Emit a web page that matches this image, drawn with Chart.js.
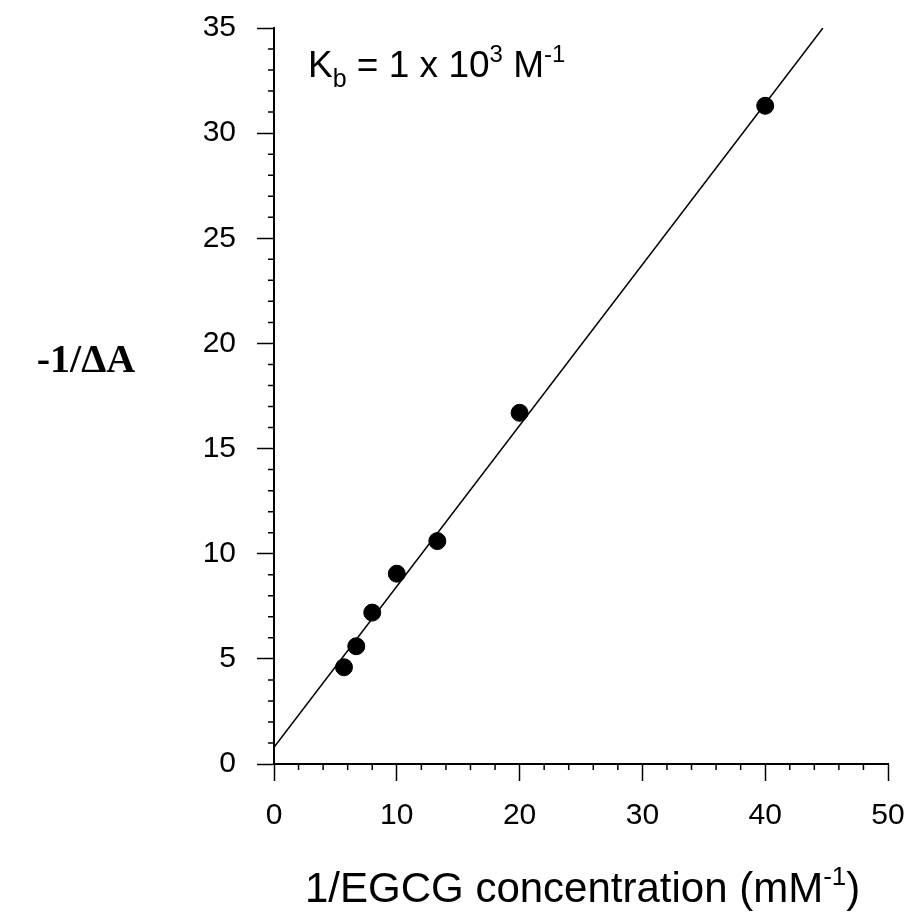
<!DOCTYPE html>
<html>
<head>
<meta charset="utf-8">
<script src="https://cdn.jsdelivr.net/npm/chart.js@4"></script>
<style>
  html, body { margin: 0; padding: 0; background: #fff; }
  #wrap { width: 910px; height: 917px; }
</style>
</head>
<body>
<div id="wrap"><canvas id="chart"></canvas></div>
<script>
const invConc = [5.7, 6.7, 8.0, 10.0, 13.3, 20.0, 40.0];
const invDeltaA = [4.6, 5.6, 7.2, 9.05, 10.6, 16.7, 31.3];

// fitted line, ends where it leaves the frame
const fitX = [0, 44.7];
const fitY = [0.8, 35];

const xMin = 0, xMax = 50, xStep = 10, xMinor = 2;
const yMin = 0, yMax = 35, yStep = 5, yMinor = 1;

const sans = '"Liberation Sans", Arial, sans-serif';
const serif = '"Liberation Serif", "Times New Roman", serif';

// minor ticks + the texts that carry sub/superscripts
const decorations = {
    id: 'decorations',
    afterDraw(chart) {
        const { ctx, scales: { x, y }, chartArea } = chart;
        ctx.save();
        ctx.strokeStyle = '#000';
        ctx.lineWidth = 1.5;
        ctx.beginPath();
        for (let v = xMin; v <= xMax; v += xMinor) {
            if (v % xStep === 0) continue;
            const px = x.getPixelForValue(v);
            ctx.moveTo(px, chartArea.bottom);
            ctx.lineTo(px, chartArea.bottom + 6);
        }
        for (let v = yMin; v <= yMax; v += yMinor) {
            if (v % yStep === 0) continue;
            const py = y.getPixelForValue(v);
            ctx.moveTo(chartArea.left, py);
            ctx.lineTo(chartArea.left - 6, py);
        }
        ctx.stroke();

        ctx.fillStyle = '#000';
        ctx.textBaseline = 'alphabetic';
        ctx.textAlign = 'left';

        // K_b = 1 x 10^3 M^-1
        let cx = 308;
        const base = 77;
        const put = (txt, size, dy) => {
            ctx.font = `${size}px ${sans}`;
            ctx.fillText(txt, cx, base + dy);
            cx += ctx.measureText(txt).width;
        };
        put('K', 37, 0);
        put('b', 25, 10);
        put(' = 1 x 10', 37, 0);
        put('3', 24, -15);
        put(' M', 37, 0);
        put('-1', 24, -15);

        // x title
        cx = 305;
        const tb = 902;
        const putT = (txt, size, dy) => {
            ctx.font = `${size}px ${sans}`;
            ctx.fillText(txt, cx, tb + dy);
            cx += ctx.measureText(txt).width;
        };
        putT('1/EGCG concentration (mM', 42, 0);
        putT('-1', 26, -17);
        putT(')', 42, 0);

        // y title
        ctx.font = `bold 40px ${serif}`;
        ctx.textAlign = 'center';
        ctx.textBaseline = 'middle';
        ctx.fillText('-1/\u0394A', 86, 362);
        ctx.restore();
    }
};

new Chart(document.getElementById('chart'), {
    type: 'scatter',
    data: {
        datasets: [
            {
                data: fitX.map((v, i) => ({ x: v, y: fitY[i] })),
                showLine: true,
                borderColor: '#000',
                borderWidth: 1.5,
                pointRadius: 0,
                fill: false
            },
            {
                data: invConc.map((v, i) => ({ x: v, y: invDeltaA[i] })),
                backgroundColor: '#000',
                borderColor: '#000',
                pointRadius: 8.5,
                pointHoverRadius: 8.5
            }
        ]
    },
    options: {
        responsive: true,
        maintainAspectRatio: false,
        animation: false,
        layout: { padding: { top: 28, right: 22, left: 0, bottom: 0 } },
        plugins: {
            legend: { display: false },
            tooltip: { enabled: false }
        },
        scales: {
            x: {
                type: 'linear',
                min: xMin,
                max: xMax,
                afterFit: (s) => {
                    s.height = 917 - 764;
                    s.paddingLeft = 0;
                    s.paddingRight = 0;
                },
                border: { display: true, color: '#000', width: 2 },
                grid: { drawOnChartArea: false, tickLength: 17, tickColor: '#000', tickWidth: 1.5 },
                ticks: {
                    stepSize: xStep,
                    color: '#000',
                    padding: 17,
                    maxRotation: 0,
                    font: { family: sans, size: 30 }
                }
            },
            y: {
                type: 'linear',
                min: yMin,
                max: yMax,
                afterFit: (s) => {
                    s.width = 274;
                    s.paddingTop = 0;
                    s.paddingBottom = 0;
                },
                border: { display: true, color: '#000', width: 2 },
                grid: { drawOnChartArea: false, tickLength: 17, tickColor: '#000', tickWidth: 1.5 },
                ticks: {
                    stepSize: yStep,
                    color: '#000',
                    padding: 21,
                    font: { family: sans, size: 30 }
                }
            }
        }
    },
    plugins: [decorations]
});
</script>
</body>
</html>
